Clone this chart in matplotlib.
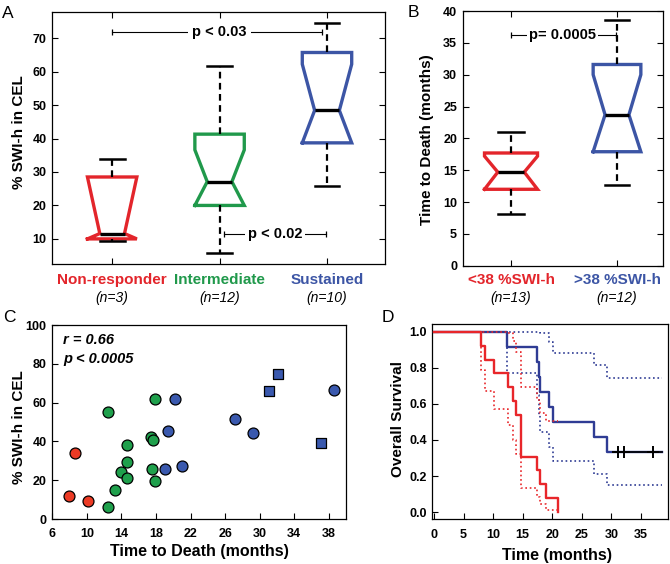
import matplotlib
matplotlib.use('Agg')
import matplotlib.pyplot as plt

plt.rcParams['font.family'] = ['Liberation Sans', 'DejaVu Sans']
plt.rcParams['font.weight'] = 'bold'
plt.rcParams['axes.linewidth'] = 0.9

# ---------------- data ----------------
# Panel A: %SWI-h in CEL by response group (box statistics)
groups_a = ['Non-responder', 'Intermediate', 'Sustained']
n_a = ['(n=3)', '(n=12)', '(n=10)']
a_whislo = [9.3, 5.9, 25.8]
a_q1 = [10.0, 20.0, 38.7]
a_med = [11.6, 27.1, 48.4]
a_q3 = [28.5, 41.3, 65.7]
a_whishi = [34.0, 61.6, 74.5]
a_cilo = [10.0, 20.0, 38.7]
a_cihi = [28.5, 36.6, 62.2]
a_yticks = [10, 20, 30, 40, 50, 60, 70]

# Panel B: time to death by %SWI-h group
groups_b = ['<38 %SWI-h', '>38 %SWI-h']
n_b = ['(n=13)', '(n=12)']
b_whislo = [8.1, 12.6]
b_q1 = [12.0, 17.9]
b_med = [14.7, 23.7]
b_q3 = [17.7, 31.6]
b_whishi = [21.0, 38.6]
b_cilo = [12.0, 17.9]
b_cihi = [17.2, 30.0]
b_yticks = [0, 5, 10, 15, 20, 25, 30, 35, 40]

# Panel C: scatter
red_x = [7.9, 8.6, 10.1]
red_y = [12.0, 34.1, 9.4]
green_x = [12.4, 17.9, 17.4, 17.7, 14.7, 14.6, 13.9, 14.7, 17.5, 17.9, 13.3, 12.5]
green_y = [55.4, 61.7, 42.5, 40.5, 37.9, 29.2, 24.4, 20.9, 25.7, 19.4, 15.1, 6.0]
blue_x = [20.2, 19.4, 19.0, 21.0, 27.1, 29.2, 38.6]
blue_y = [61.7, 45.6, 25.9, 27.4, 51.5, 44.1, 66.6]
bluesq_x = [32.1, 31.1, 37.1]
bluesq_y = [74.8, 66.2, 39.1]
c_xticks = [6, 10, 14, 18, 22, 26, 30, 34, 38]
c_yticks = [0, 20, 40, 60, 80, 100]

# Panel D: Kaplan-Meier curves with confidence bounds
km_red_t = [0, 7.9, 8.6, 10.1, 12.5, 13.3, 13.9, 14.7, 17.5, 17.9, 19.0, 21.0]
km_red_s = [1.0, 0.923, 0.846, 0.769, 0.692, 0.615, 0.538, 0.308, 0.231, 0.154, 0.077, 0.0]
km_red_lo = [1.0, 0.789, 0.671, 0.571, 0.482, 0.400, 0.325, 0.136, 0.086, 0.043, 0.012, 0.012]
km_red_hi = [1.0, 1.0, 1.0, 1.0, 0.994, 0.946, 0.890, 0.695, 0.623, 0.550, 0.506, 0.506]
km_blue_t = [0, 12.4, 17.4, 17.7, 17.9, 19.4, 20.2, 27.1, 29.2, 38.6]
km_blue_s = [1.0, 0.917, 0.833, 0.750, 0.667, 0.583, 0.500, 0.417, 0.333, 0.333]
km_blue_lo = [1.0, 0.773, 0.647, 0.541, 0.447, 0.362, 0.284, 0.213, 0.150, 0.150]
km_blue_hi = [1.0, 1.0, 1.0, 1.0, 0.995, 0.941, 0.880, 0.814, 0.742, 0.742]
censor_t = [31.1, 32.1, 37.1]
d_xticks = [0, 5, 10, 15, 20, 25, 30, 35]
d_yticks = [0.0, 0.2, 0.4, 0.6, 0.8, 1.0]

RED = '#E3252B'
GREEN = '#20994B'
BLUE = '#3C55A5'
C_RED = '#EC3B25'
C_GREEN = '#1FA04C'
C_BLUE = '#3A59AE'
D_RED = '#E8262A'
D_BLUE = '#2F3C94'

W, H = 670, 564
fig = plt.figure(figsize=(W / 100, H / 100), dpi=100)


def ax_at(x0, y0, x1, y1):
    return fig.add_axes([x0 / W, 1 - y1 / H, (x1 - x0) / W, (y1 - y0) / H])


axA = ax_at(52, 12, 385, 264)
axB = ax_at(463, 11, 663, 265.7)
axC = ax_at(52.3, 325, 346, 519)
axD = ax_at(431.7, 324, 668, 519)

boxprops = dict(linewidth=2.4, solid_joinstyle='miter')
medprops = dict(color='k', linewidth=2.4, solid_capstyle='butt')
whiskprops = dict(color='k', linestyle=(0, (3, 2)), linewidth=1.6)
capprops = dict(color='k', linewidth=1.8)


def draw_boxes(ax, lo, q1, med, q3, hi, cilo, cihi, widths, colors):
    stats = []
    for i in range(len(med)):
        stats.append(dict(whislo=lo[i], q1=q1[i], med=med[i], q3=q3[i], whishi=hi[i],
                          cilo=cilo[i], cihi=cihi[i], fliers=[]))
    pos = list(range(1, len(med) + 1))
    bp = ax.bxp(stats, positions=pos, widths=widths, shownotches=True, showfliers=False,
                boxprops=boxprops, medianprops=medprops, whiskerprops=whiskprops,
                capprops=capprops, manage_ticks=False)
    for b, c in zip(bp['boxes'], colors):
        b.set_color(c)
    return pos


def bracket(ax, x1, x2, y, text, xt, pad):
    ax.plot([x1, x2], [y, y], color='k', lw=0.8, marker='|', markersize=5, mew=0.9)
    ax.text(xt, y, text, ha='center', va='center', fontsize=10.5, fontweight='bold',
            bbox=dict(fc='white', ec='none', pad=pad))


# ---------------- Panel A ----------------
posA = draw_boxes(axA, a_whislo, a_q1, a_med, a_q3, a_whishi, a_cilo, a_cihi, 0.46,
                  [RED, GREEN, BLUE])
axA.set_xlim(0.44, 3.54)
axA.set_ylim(2.5, 77.8)
axA.set_xticks(posA)
axA.set_xticklabels([''] * 3)
axA.set_yticks(a_yticks)
axA.tick_params(direction='in', top=True, right=True, length=4, width=0.8, labelsize=9, pad=3.8)
axA.set_ylabel('% SWI-h in CEL', fontsize=11, fontweight='bold', va='center')
axA.yaxis.set_label_coords(-0.099, 0.524)
bracket(axA, 1.0, 2.95, 71.7, 'p < 0.03', 2.0, 3)
bracket(axA, 2.04, 2.99, 11.5, 'p < 0.02', 2.52, 2)
for p, g, n, c in zip(posA, groups_a, n_a, [RED, GREEN, BLUE]):
    axA.text(p, -0.0635, g, transform=axA.get_xaxis_transform(), ha='center', va='center',
             fontsize=11, fontweight='bold', color=c)
    axA.text(p, -0.135, n, transform=axA.get_xaxis_transform(), ha='center', va='center',
             fontsize=10, fontweight='normal', style='italic', color='k')

# ---------------- Panel B ----------------
posB = draw_boxes(axB, b_whislo, b_q1, b_med, b_q3, b_whishi, b_cilo, b_cihi, [0.5, 0.45],
                  [RED, BLUE])
axB.set_xlim(0.547, 2.434)
axB.set_ylim(0, 40)
axB.set_xticks(posB)
axB.set_xticklabels([''] * 2)
axB.set_yticks(b_yticks)
axB.tick_params(direction='in', top=True, right=True, length=4, width=0.8, labelsize=9, pad=4.3)
axB.set_ylabel('Time to Death (months)', fontsize=11, fontweight='bold', va='center')
axB.yaxis.set_label_coords(-0.178, 0.495)
bracket(axB, 1.0, 1.99, 36.3, 'p= 0.0005', 1.486, 1.5)
for p, g, n, c in zip(posB, groups_b, n_b, [RED, BLUE]):
    axB.text(p, -0.057, g, transform=axB.get_xaxis_transform(), ha='center', va='center',
             fontsize=11, fontweight='bold', color=c)
    axB.text(p, -0.127, n, transform=axB.get_xaxis_transform(), ha='center', va='center',
             fontsize=10, fontweight='normal', style='italic', color='k')

# ---------------- Panel C ----------------
sc_kw = dict(s=62, edgecolors='k', linewidths=0.9, zorder=3, clip_on=False)
axC.scatter(red_x, red_y, c=C_RED, marker='o', **sc_kw)
axC.scatter(green_x, green_y, c=C_GREEN, marker='o', **sc_kw)
axC.scatter(blue_x, blue_y, c=C_BLUE, marker='o', **sc_kw)
axC.scatter(bluesq_x, bluesq_y, c=C_BLUE, marker='s', **sc_kw)
axC.set_xlim(6, 40)
axC.set_ylim(0, 100)
axC.set_xticks(c_xticks)
axC.set_yticks(c_yticks)
axC.tick_params(direction='in', length=4, width=0.8, labelsize=9)
axC.tick_params(axis='x', pad=6.5)
axC.tick_params(axis='y', pad=4)
axC.set_xlabel('Time to Death (months)', fontsize=11.5, fontweight='bold', va='center')
axC.xaxis.set_label_coords(0.5, -0.165)
axC.set_ylabel('% SWI-h in CEL', fontsize=11, fontweight='bold', va='center')
axC.yaxis.set_label_coords(-0.113, 0.472)
axC.text(0.036, 0.923, 'r = 0.66', transform=axC.transAxes, ha='left', va='center',
         fontsize=10.5, fontweight='bold', style='italic')
axC.text(0.036, 0.825, 'p < 0.0005', transform=axC.transAxes, ha='left', va='center',
         fontsize=10.5, fontweight='bold', style='italic')

# ---------------- Panel D ----------------
axD.step(km_blue_t, km_blue_s, where='post', color=D_BLUE, lw=1.7, zorder=3)
axD.step(km_blue_t, km_blue_lo, where='post', color=D_BLUE, lw=1.2, ls=':', zorder=2)
axD.step(km_blue_t, km_blue_hi, where='post', color=D_BLUE, lw=1.2, ls=':', zorder=2)
axD.step(km_red_t, km_red_lo, where='post', color=D_RED, lw=1.2, ls=':', zorder=4)
axD.step(km_red_t, km_red_hi, where='post', color=D_RED, lw=1.2, ls=':', zorder=4)
axD.step(km_red_t, km_red_s, where='post', color=D_RED, lw=1.7, zorder=5)
axD.plot([censor_t[0] - 0.5, km_blue_t[-1]], [km_blue_s[-1]] * 2, color='k', lw=1.2, zorder=6)
axD.plot(censor_t, [km_blue_s[-1]] * len(censor_t), ls='none', marker='+', color='k',
         markersize=9, mew=1.4, zorder=7)
axD.set_xlim(-0.4, 39.6)
axD.set_ylim(-0.038, 1.043)
axD.set_xticks(d_xticks)
axD.set_yticks(d_yticks)
axD.set_yticklabels(['%.1f' % v for v in d_yticks])
axD.tick_params(direction='in', length=4, width=0.8, labelsize=9)
axD.tick_params(axis='x', pad=7.5)
axD.tick_params(axis='y', pad=3.4)
axD.set_xlabel('Time (months)', fontsize=11.5, fontweight='bold', va='center')
axD.xaxis.set_label_coords(0.53, -0.185)
axD.set_ylabel('Overall Survival', fontsize=11, fontweight='bold', va='center')
axD.yaxis.set_label_coords(-0.143, 0.515)

# panel letters
for x, yb, s in [(2, 18.3, 'A'), (408, 16.7, 'B'), (3, 321.7, 'C'), (382, 321.7, 'D')]:
    fig.text(x / W, 1 - yb / H, s, fontsize=12.5, fontweight='normal', ha='left', va='baseline')

fig.savefig('out.png', dpi=100)
